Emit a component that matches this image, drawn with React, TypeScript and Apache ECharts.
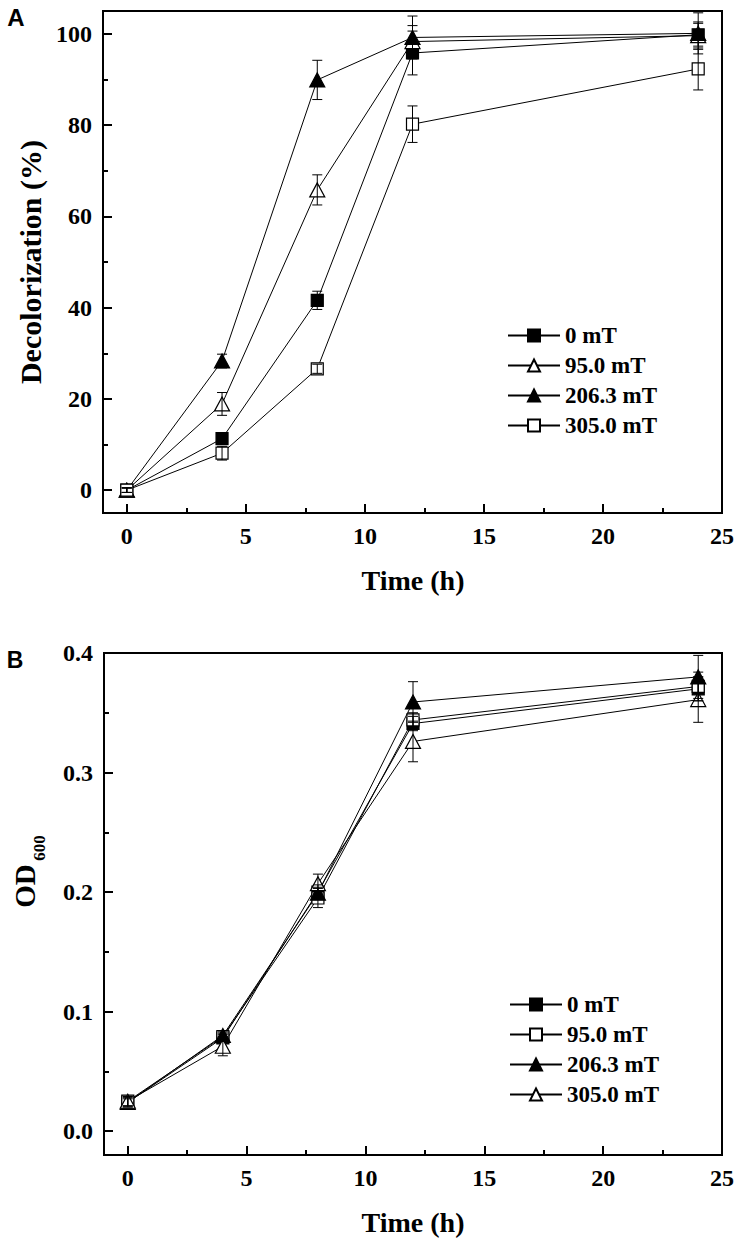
import React, { useEffect, useRef } from "react";
import * as echarts from "echarts";

// ---------- data ----------
const timeH = [0, 4, 8, 12, 24];
const seriesNames = ["0 mT", "95.0 mT", "206.3 mT", "305.0 mT"];

// Panel A: decolorization (%)
const decol0mT = [0, 11.3, 41.6, 95.8, 99.8];
const decol95mT = [0, 18.9, 65.8, 98.3, 99.6];
const decol206mT = [0, 28.3, 89.9, 99.2, 100.1];
const decol305mT = [0, 8.1, 26.6, 80.2, 92.3];
const decolErr0mT = [0.5, 1.2, 2.0, 4.8, 2.5];
const decolErr95mT = [0.5, 2.5, 3.3, 3.5, 3.0];
const decolErr206mT = [0.5, 1.5, 4.3, 4.7, 4.5];
const decolErr305mT = [0.5, 1.5, 1.0, 4.0, 4.6];

// Panel B: OD600
const od0mT = [0.024, 0.078, 0.2, 0.341, 0.37];
const od95mT = [0.025, 0.079, 0.195, 0.344, 0.372];
const od206mT = [0.024, 0.08, 0.199, 0.359, 0.38];
const od305mT = [0.025, 0.071, 0.207, 0.326, 0.361];
const odErr0mT = [0.004, 0.003, 0.006, 0.006, 0.01];
const odErr95mT = [0.004, 0.003, 0.008, 0.006, 0.012];
const odErr206mT = [0.003, 0.003, 0.005, 0.017, 0.018];
const odErr305mT = [0.004, 0.008, 0.008, 0.017, 0.019];

const xMajorTicks = [0, 5, 10, 15, 20, 25];
const xMinorTicks = [2.5, 7.5, 12.5, 17.5, 22.5];
const decolMajorTicks = [0, 20, 40, 60, 80, 100];
const decolMinorTicks = [10, 30, 50, 70, 90];
const odMajorTicks = [0, 0.1, 0.2, 0.3, 0.4];
const odMinorTicks = [0.05, 0.15, 0.25, 0.35];

const SERIF = "'Liberation Serif', 'Times New Roman', serif";
const SANS = "'Liberation Sans', Arial, sans-serif";

type SeriesSpec = {
  name: string;
  symbol: string;
  filled: boolean;
  values: number[];
  errors: number[];
};

type PanelCfg = {
  grid: { left: number; top: number; width: number; height: number };
  yMin: number;
  yMax: number;
  yMajor: number[];
  yMinor: number[];
  yFmt: (v: number) => string;
  series: SeriesSpec[];
  legend: { left: number; top: number };
  graphics: any[];
};

function errorSeries(spec: SeriesSpec) {
  return {
    type: "custom",
    xAxisIndex: 0,
    yAxisIndex: 0,
    z: 5,
    silent: true,
    data: timeH.map((t, i) => [t, spec.values[i] - spec.errors[i], spec.values[i] + spec.errors[i]]),
    encode: { x: 0, y: [1, 2] },
    renderItem: (params: any, api: any) => {
      const x = api.value(0);
      const lo = api.value(1);
      const hi = api.value(2);
      const p1 = api.coord([x, hi]);
      const p2 = api.coord([x, lo]);
      const w = 5;
      const st = { stroke: "#000", lineWidth: 1 };
      return {
        type: "group",
        children: [
          { type: "line", shape: { x1: p1[0], y1: p1[1], x2: p2[0], y2: p2[1] }, style: st },
          { type: "line", shape: { x1: p1[0] - w, y1: p1[1], x2: p1[0] + w, y2: p1[1] }, style: st },
          { type: "line", shape: { x1: p2[0] - w, y1: p2[1], x2: p2[0] + w, y2: p2[1] }, style: st },
        ],
      };
    },
  };
}

function lineSeries(spec: SeriesSpec) {
  const isTri = spec.symbol === "triangle";
  return {
    type: "line",
    name: spec.name,
    xAxisIndex: 0,
    yAxisIndex: 0,
    z: 4,
    data: timeH.map((t, i) => [t, spec.values[i]]),
    symbol: spec.symbol,
    symbolSize: isTri ? [15, 14] : [12, 12],
    showAllSymbol: true,
    lineStyle: { color: "#000", width: 1 },
    itemStyle: {
      color: spec.filled ? "#000" : "#fff",
      borderColor: "#000",
      borderWidth: 1.2,
    },
    emphasis: { disabled: true },
  };
}

function buildOption(cfg: PanelCfg) {
  const axisLineStyle = { color: "#000", width: 2 };
  const labelStyle = {
    fontFamily: SERIF,
    fontWeight: "bold",
    fontSize: 24,
    color: "#000",
  };
  return {
    animation: false,
    grid: {
      ...cfg.grid,
      show: true,
      borderColor: "#000",
      borderWidth: 2,
      backgroundColor: "transparent",
    },
    xAxis: [
      {
        type: "value",
        gridIndex: 0,
        position: "bottom",
        min: -1,
        max: 25,
        axisLine: { show: true, onZero: false, lineStyle: axisLineStyle },
        axisTick: {
          show: true,
          inside: true,
          length: 9,
          customValues: xMajorTicks,
          lineStyle: { color: "#000", width: 2 },
        },
        axisLabel: { ...labelStyle, margin: 11, customValues: xMajorTicks },
        splitLine: { show: false },
      },
      {
        type: "value",
        gridIndex: 0,
        position: "bottom",
        offset: 0,
        min: -1,
        max: 25,
        axisLine: { show: false, onZero: false },
        axisTick: {
          show: true,
          inside: true,
          length: 5,
          customValues: xMinorTicks,
          lineStyle: { color: "#000", width: 2 },
        },
        axisLabel: { show: false },
        splitLine: { show: false },
      },
    ],
    yAxis: [
      {
        type: "value",
        gridIndex: 0,
        position: "left",
        min: cfg.yMin,
        max: cfg.yMax,
        axisLine: { show: true, onZero: false, lineStyle: axisLineStyle },
        axisTick: {
          show: true,
          inside: true,
          length: 9,
          customValues: cfg.yMajor,
          lineStyle: { color: "#000", width: 2 },
        },
        axisLabel: {
          ...labelStyle,
          margin: 11,
          customValues: cfg.yMajor,
          formatter: cfg.yFmt,
        },
        splitLine: { show: false },
      },
      {
        type: "value",
        gridIndex: 0,
        position: "left",
        offset: 0,
        min: cfg.yMin,
        max: cfg.yMax,
        axisLine: { show: false, onZero: false },
        axisTick: {
          show: true,
          inside: true,
          length: 5,
          customValues: cfg.yMinor,
          lineStyle: { color: "#000", width: 2 },
        },
        axisLabel: { show: false },
        splitLine: { show: false },
      },
    ],
    legend: {
      data: cfg.series.map((s) => s.name),
      orient: "vertical",
      left: cfg.legend.left,
      top: cfg.legend.top,
      padding: 0,
      itemWidth: 52,
      itemHeight: 15,
      itemGap: 7,
      selectedMode: false,
      textStyle: {
        fontFamily: SERIF,
        fontWeight: "bold",
        fontSize: 23,
        color: "#000",
      },
    },
    graphic: cfg.graphics,
    series: [
      ...cfg.series.map(lineSeries),
      ...cfg.series.map(errorSeries),
    ],
  };
}

function titleText(text: string, x: number, y: number, size: number, rotate = false, family = SERIF) {
  return {
    type: "text",
    x,
    y,
    rotation: rotate ? Math.PI / 2 : 0,
    silent: true,
    style: {
      text,
      fontFamily: family,
      fontWeight: "bold",
      fontSize: size,
      fill: "#000",
      align: "center",
      verticalAlign: "middle",
    },
  };
}

const panelA: PanelCfg = {
  grid: { left: 103, top: 11, width: 619, height: 502 },
  yMin: -5,
  yMax: 105,
  yMajor: decolMajorTicks,
  yMinor: decolMinorTicks,
  yFmt: (v: number) => String(Math.round(v)),
  series: [
    { name: seriesNames[0], symbol: "rect", filled: true, values: decol0mT, errors: decolErr0mT },
    { name: seriesNames[1], symbol: "triangle", filled: false, values: decol95mT, errors: decolErr95mT },
    { name: seriesNames[2], symbol: "triangle", filled: true, values: decol206mT, errors: decolErr206mT },
    { name: seriesNames[3], symbol: "rect", filled: false, values: decol305mT, errors: decolErr305mT },
  ],
  legend: { left: 507, top: 324 },
  graphics: [
    titleText("A", 16, 17, 24, false, SANS),
    titleText("Time (h)", 413, 580, 28),
    titleText("Decolorization (%)", 30, 262, 30, true),
  ],
};

const panelB: PanelCfg = {
  grid: { left: 104, top: 33, width: 618, height: 502 },
  yMin: -0.02,
  yMax: 0.4,
  yMajor: odMajorTicks,
  yMinor: odMinorTicks,
  yFmt: (v: number) => v.toFixed(1),
  series: [
    { name: seriesNames[0], symbol: "rect", filled: true, values: od0mT, errors: odErr0mT },
    { name: seriesNames[1], symbol: "rect", filled: false, values: od95mT, errors: odErr95mT },
    { name: seriesNames[2], symbol: "triangle", filled: true, values: od206mT, errors: odErr206mT },
    { name: seriesNames[3], symbol: "triangle", filled: false, values: od305mT, errors: odErr305mT },
  ],
  legend: { left: 509, top: 373 },
  graphics: [
    titleText("B", 15, 40, 23, false, SANS),
    titleText("Time (h)", 413, 602, 28),
    titleText("OD", 25, 266, 29, true),
    titleText("600", 39, 228, 17, true),
  ],
};

function ChartPanel({ cfg, top, height }: { cfg: PanelCfg; top: number; height: number }) {
  const ref = useRef<HTMLDivElement | null>(null);
  useEffect(() => {
    if (!ref.current) return;
    const chart = echarts.init(ref.current, undefined, { renderer: "svg" });
    chart.setOption(buildOption(cfg) as any);
    return () => chart.dispose();
  }, [cfg]);
  return (
    <div
      ref={ref}
      style={{ position: "absolute", left: 0, top, width: 739, height }}
    />
  );
}

export default function App() {
  return (
    <div style={{ position: "absolute", left: 0, top: 0, width: 739, height: 1247, background: "#fff" }}>
      <ChartPanel cfg={panelA} top={0} height={620} />
      <ChartPanel cfg={panelB} top={620} height={627} />
    </div>
  );
}
